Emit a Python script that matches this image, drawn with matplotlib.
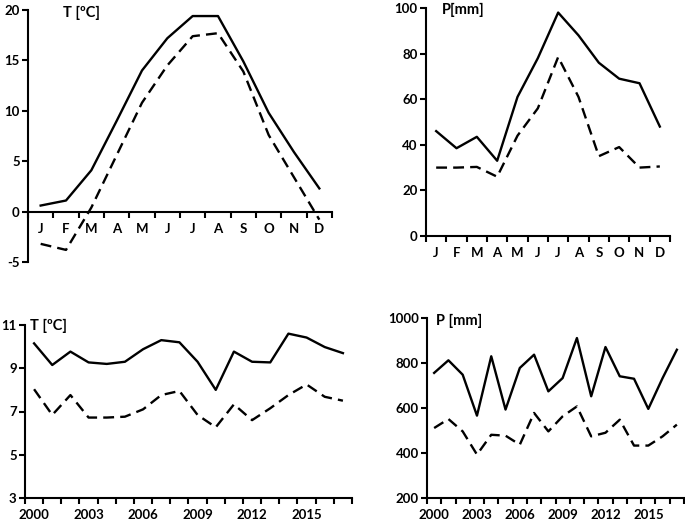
import numpy as np
import matplotlib
matplotlib.use('Agg')
import matplotlib.pyplot as plt

plt.rcParams['font.family'] = ['Lato', 'DejaVu Sans']
plt.rcParams['font.weight'] = 'bold'
plt.rcParams['font.size'] = 9.5
plt.rcParams['axes.unicode_minus'] = False

# monthly data
months = ['J', 'F', 'M', 'A', 'M', 'J', 'J', 'A', 'S', 'O', 'N', 'D']
t_month_solid = [0.6, 1.1, 4.1, 9.0, 14.0, 17.2, 19.4, 19.4, 14.9, 9.8, 5.9, 2.3]
t_month_dash = [-3.2, -3.8, 0.4, 5.6, 10.8, 14.5, 17.4, 17.7, 13.9, 7.6, 3.4, -0.8]
p_month_solid = [46, 38.5, 43.5, 33, 61, 78, 98, 88, 76, 69, 67, 48]
p_month_dash = [30, 30, 30.3, 26, 44, 56, 78.5, 61, 35, 39, 30, 30.5]

# yearly data
years = list(range(2000, 2018))
t_year_solid = [10.15, 9.15, 9.77, 9.27, 9.2, 9.3, 9.88, 10.3, 10.2, 9.3, 8.0,
                9.77, 9.3, 9.27, 10.6, 10.42, 9.98, 9.7]
t_year_dash = [8.03, 6.84, 7.76, 6.72, 6.72, 6.76, 7.1, 7.76, 7.95, 6.84, 6.27,
               7.33, 6.6, 7.15, 7.76, 8.25, 7.68, 7.5]
p_year_solid = [756, 812, 748, 566, 830, 593, 778, 837, 674, 733, 911, 652,
                871, 741, 730, 596, 733, 859]
p_year_dash = [511, 551, 496, 393, 481, 477, 437, 578, 496, 563, 607, 474,
               490, 548, 433, 433, 474, 526]

LW = 1.7
DASH = (0, (4.6, 2.6))

fig = plt.figure(figsize=(6.85, 5.24), dpi=100)
W, H = 685, 524


def make_ax(x0, x1, ytop, ybot):
    return fig.add_axes([x0 / W, 1 - ybot / H, (x1 - x0) / W, (ybot - ytop) / H])


def style(ax, n, labels, label_pos):
    for s in ['top', 'right']:
        ax.spines[s].set_visible(False)
    for s in ['left', 'bottom']:
        ax.spines[s].set_linewidth(1.5)
    ax.set_xlim(0, n)
    ax.set_xticks(np.arange(n + 1))
    ax.set_xticklabels([])
    ax.set_xticks(np.array(label_pos) + 0.5, minor=True)
    ax.set_xticklabels(labels, minor=True)
    ax.tick_params(axis='x', which='major', direction='out', length=4, width=1.5)
    ax.tick_params(axis='x', which='minor', length=0, pad=8)
    ax.tick_params(axis='y', direction='out', length=4, width=1.5, pad=2)


# top left: monthly temperature
ax1 = make_ax(28, 332, 10, 262)
x = np.arange(12) + 0.5
ax1.plot(x, t_month_solid, color='black', lw=LW)
ax1.plot(x, t_month_dash, color='black', lw=LW, linestyle=DASH)
ax1.set_ylim(-5, 20)
ax1.set_yticks([-5, 0, 5, 10, 15, 20])
style(ax1, 12, months, range(12))
ax1.spines['bottom'].set_position(('data', 0))

# top right: monthly precipitation
ax2 = make_ax(426, 670, 8, 236)
ax2.plot(x, p_month_solid, color='black', lw=LW)
ax2.plot(x, p_month_dash, color='black', lw=LW, linestyle=DASH)
ax2.set_ylim(0, 100)
ax2.set_yticks(range(0, 101, 20))
style(ax2, 12, months, range(12))

# bottom left: yearly temperature
ax3 = make_ax(25, 352, 325, 498)
xy = np.arange(len(years)) + 0.5
ax3.plot(xy, t_year_solid, color='black', lw=LW)
ax3.plot(xy, t_year_dash, color='black', lw=LW, linestyle=DASH)
ax3.set_ylim(3, 11)
ax3.set_yticks([3, 5, 7, 9, 11])
style(ax3, len(years), [str(y) for y in years[::3]], range(0, len(years), 3))

# bottom right: yearly precipitation
ax4 = make_ax(427, 684, 318, 498)
ax4.plot(xy, p_year_solid, color='black', lw=LW)
ax4.plot(xy, p_year_dash, color='black', lw=LW, linestyle=DASH)
ax4.set_ylim(200, 1000)
ax4.set_yticks(range(200, 1001, 200))
style(ax4, len(years), [str(y) for y in years[::3]], range(0, len(years), 3))

fig.text(63 / W, 1 - 13 / H, 'T [ºC]', va='center', ha='left', fontsize=10.5)
fig.text(442 / W, 1 - 10 / H, 'P[mm]', va='center', ha='left', fontsize=10.5)
fig.text(30 / W, 1 - 326 / H, 'T [ºC]', va='center', ha='left', fontsize=10.5)
fig.text(436 / W, 1 - 321 / H, 'P [mm]', va='center', ha='left', fontsize=10.5)

fig.savefig('out.png', dpi=100)
